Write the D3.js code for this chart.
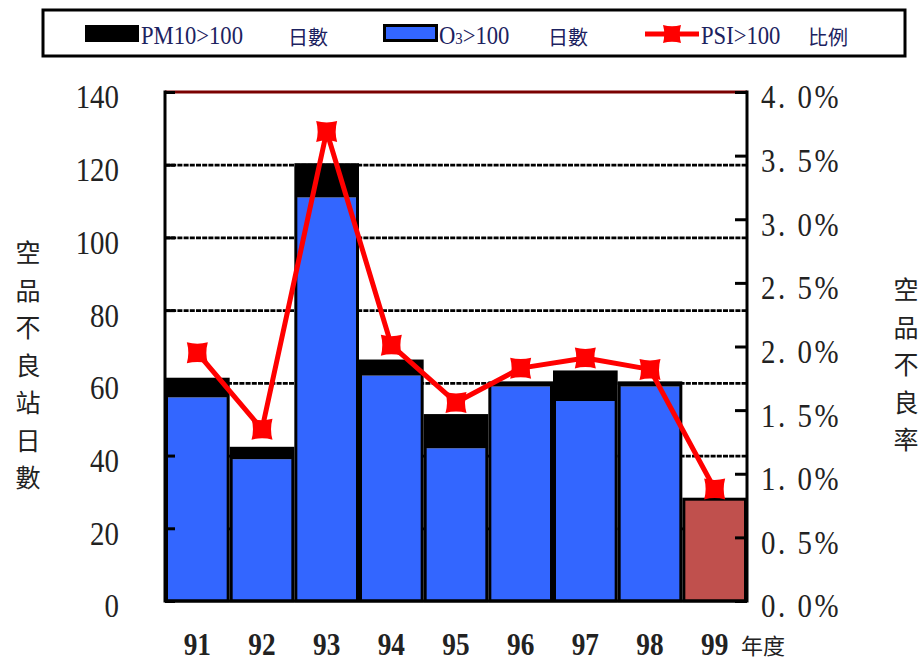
<!DOCTYPE html>
<html>
<head>
<meta charset="utf-8">
<script src="https://cdn.jsdelivr.net/npm/d3@7"></script>
<style>
  body { margin: 0; background: #fff; }
  svg { display: block; }
</style>
</head>
<body>
<svg width="922" height="661"></svg>
<script>
/* CHART DATA */
var years = ["91", "92", "93", "94", "95", "96", "97", "98", "99"];
var o3Days = [56, 39, 111, 62, 42, 59, 55, 59, 28];
var pm10Days = [5, 3, 9, 4, 9, 1, 8, 1, 0];
var psiRate = [1.95, 1.35, 3.69, 2.01, 1.56, 1.83, 1.91, 1.82, 0.88];
var leftTicks = [0, 20, 40, 60, 80, 100, 120, 140];
var rightTicks = [0, 0.5, 1.0, 1.5, 2.0, 2.5, 3.0, 3.5, 4.0];
var gridTicks = [20, 40, 60, 80, 100, 120];

var svg = d3.select("svg");
svg.append("rect").attr("width", 922).attr("height", 661).attr("fill", "#fff");

/* PLOT AREA EDGES (window.top IS READ-ONLY, SO USE OWN NAMES) */
var plotLeft = 165, plotRight = 747, plotTop = 92, plotBottom = 601;
var serif = "'Liberation Serif', 'DejaVu Serif', serif";
var cjk = "'Noto Sans CJK TC', 'Noto Sans CJK SC', sans-serif";

/* SCALES */
var x = d3.scaleBand().domain(years).range([plotLeft, plotRight]).padding(0);
var yL = d3.scaleLinear().domain([0, 140]).range([plotBottom, plotTop]);
var yR = d3.scaleLinear().domain([0, 4]).range([plotBottom, plotTop]);

/* DASHED GRID LINES BEHIND THE BARS */
svg.append("g")
  .attr("transform", "translate(" + plotLeft + ",0)")
  .call(d3.axisLeft(yL).tickValues(gridTicks).tickSize(-(plotRight - plotLeft)).tickFormat(""))
  .call(function(g) {
    g.select(".domain").remove();
    g.selectAll("line").attr("stroke", "#000").attr("stroke-width", 2.8).attr("stroke-dasharray", "5,1.2");
  });

/* STACKED BARS */
var bars = svg.append("g").selectAll("g").data(years).enter().append("g");
bars.append("rect")
  .attr("x", function(d) { return x(d) + 1.5; })
  .attr("width", x.bandwidth() - 3)
  .attr("y", function(d, i) { return yL(o3Days[i]); })
  .attr("height", function(d, i) { return yL(0) - yL(o3Days[i]); })
  .attr("fill", function(d) { return d === "99" ? "#C0504D" : "#3366FF"; });
bars.append("rect")
  .attr("x", function(d) { return x(d) + 1.5; })
  .attr("width", x.bandwidth() - 3)
  .attr("y", function(d, i) { return yL(o3Days[i] + pm10Days[i]); })
  .attr("height", function(d, i) { return yL(o3Days[i]) - yL(o3Days[i] + pm10Days[i]); })
  .attr("fill", "#000");
bars.append("rect")
  .attr("x", function(d) { return x(d) + 1.5; })
  .attr("width", x.bandwidth() - 3)
  .attr("y", function(d, i) { return yL(o3Days[i] + pm10Days[i]); })
  .attr("height", function(d, i) { return yL(0) - yL(o3Days[i] + pm10Days[i]); })
  .attr("fill", "none").attr("stroke", "#000").attr("stroke-width", 3);

/* FRAME: TOP IS DARK RED, OTHERS BLACK */
svg.append("line").attr("x1", plotLeft).attr("x2", plotRight).attr("y1", plotTop).attr("y2", plotTop)
  .attr("stroke", "#7A0000").attr("stroke-width", 3);
svg.append("line").attr("x1", plotLeft).attr("x2", plotLeft).attr("y1", plotTop - 1.5).attr("y2", plotBottom + 1.5)
  .attr("stroke", "#000").attr("stroke-width", 3);
svg.append("line").attr("x1", plotRight).attr("x2", plotRight).attr("y1", plotTop - 1.5).attr("y2", plotBottom + 1.5)
  .attr("stroke", "#000").attr("stroke-width", 3);
svg.append("line").attr("x1", plotLeft).attr("x2", plotRight).attr("y1", plotBottom).attr("y2", plotBottom)
  .attr("stroke", "#000").attr("stroke-width", 3);

/* LEFT AXIS */
var sx = 0.85;
svg.append("g")
  .attr("transform", "translate(" + plotLeft + ",0)")
  .call(d3.axisLeft(yL).tickValues(leftTicks).tickSizeInner(-10).tickSizeOuter(0).tickPadding(46 / sx))
  .call(function(g) {
    g.select(".domain").remove();
    g.selectAll("line").attr("stroke", "#000").attr("stroke-width", 3);
    g.selectAll("text").attr("font-family", serif).attr("font-size", 34).attr("fill", "#222")
      .attr("dy", "0.47em")
      .attr("transform", "scale(" + sx + ",1)");
  });

/* RIGHT AXIS */
svg.append("g")
  .attr("transform", "translate(" + plotRight + ",0)")
  .call(d3.axisRight(yR).tickValues(rightTicks).tickSizeInner(-12).tickSizeOuter(0).tickPadding(14 / sx)
    .tickFormat(function(d) { return d.toFixed(1).replace(".", ". ") + "%"; }))
  .call(function(g) {
    g.select(".domain").remove();
    g.selectAll("line").attr("stroke", "#000").attr("stroke-width", 3);
    g.selectAll("text").attr("font-family", serif).attr("font-size", 34).attr("fill", "#222")
      .attr("dy", "0.47em")
      .attr("letter-spacing", 3).attr("transform", "scale(" + sx + ",1)");
  });

/* X AXIS LABELS */
svg.append("g")
  .attr("transform", "translate(0," + plotBottom + ")")
  .call(d3.axisBottom(x).tickSize(0).tickPadding(0))
  .call(function(g) {
    g.select(".domain").remove();
    g.selectAll("text").attr("font-family", serif).attr("font-size", 31).attr("font-weight", "bold")
      .attr("fill", "#222").attr("dy", 0).attr("y", 54)
      .attr("transform", "scale(0.88,1)")
      .attr("x", 0);
  });
svg.append("text").attr("x", 741).attr("y", 654).attr("font-family", cjk).attr("font-size", 22)
  .attr("fill", "#222").text("年度");

/* VERTICAL AXIS TITLES */
var leftTitle = "空品不良站日數".split("");
svg.append("g").selectAll("text").data(leftTitle).enter().append("text")
  .attr("x", 28).attr("y", function(d, i) { return 262 + i * 37.5; })
  .attr("text-anchor", "middle").attr("font-family", cjk).attr("font-size", 25).attr("fill", "#222")
  .text(function(d) { return d; });
var rightTitle = "空品不良率".split("");
svg.append("g").selectAll("text").data(rightTitle).enter().append("text")
  .attr("x", 906).attr("y", function(d, i) { return 299 + i * 37.5; })
  .attr("text-anchor", "middle").attr("font-family", cjk).attr("font-size", 25).attr("fill", "#222")
  .text(function(d) { return d; });

/* PSI LINE */
function markerPath(s) {
  var h = s / 2, c = h * 0.72;
  return "M" + (-h) + "," + (-h) + " Q0," + (-c) + " " + h + "," + (-h) +
         " Q" + c + ",0 " + h + "," + h +
         " Q0," + c + " " + (-h) + "," + h +
         " Q" + (-c) + ",0 " + (-h) + "," + (-h) + "Z";
}
var line = d3.line()
  .x(function(d, i) { return x(years[i]) + x.bandwidth() / 2; })
  .y(function(d) { return yR(d); });
svg.append("path").datum(psiRate).attr("d", line)
  .attr("fill", "none").attr("stroke", "#FF0000").attr("stroke-width", 5).attr("stroke-linejoin", "round");
svg.append("g").selectAll("path").data(psiRate).enter().append("path")
  .attr("transform", function(d, i) { return "translate(" + (x(years[i]) + x.bandwidth() / 2) + "," + yR(d) + ")"; })
  .attr("d", markerPath(21))
  .attr("fill", "#FF0000");

/* LEGEND */
var legend = svg.append("g");
legend.append("rect").attr("x", 43).attr("y", 10).attr("width", 862).attr("height", 46)
  .attr("fill", "#fff").attr("stroke", "#000").attr("stroke-width", 3);
var legendColor = "#1c2260";
legend.append("rect").attr("x", 85).attr("y", 25).attr("width", 54).attr("height", 17).attr("fill", "#000");
legend.append("text").attr("x", 141).attr("y", 44).attr("font-family", serif).attr("font-size", 26)
  .attr("fill", legendColor).attr("transform", "translate(141,0) scale(0.87,1) translate(-141,0)")
  .text("PM10>100");
legend.append("text").attr("x", 288).attr("y", 45).attr("font-family", cjk).attr("font-size", 20)
  .attr("fill", legendColor).text("日數");
legend.append("rect").attr("x", 384.5).attr("y", 25.5).attr("width", 52).attr("height", 15)
  .attr("fill", "#3366FF").attr("stroke", "#000").attr("stroke-width", 3);
var o3Label = legend.append("text").attr("x", 439).attr("y", 44).attr("font-family", serif).attr("font-size", 26)
  .attr("fill", legendColor).attr("transform", "translate(439,0) scale(0.87,1) translate(-439,0)");
o3Label.append("tspan").text("O");
o3Label.append("tspan").attr("font-size", 17).text("3");
o3Label.append("tspan").text(">100");
legend.append("text").attr("x", 548).attr("y", 45).attr("font-family", cjk).attr("font-size", 20)
  .attr("fill", legendColor).text("日數");
legend.append("line").attr("x1", 645).attr("x2", 699).attr("y1", 34).attr("y2", 34)
  .attr("stroke", "#FF0000").attr("stroke-width", 5);
legend.append("path").attr("transform", "translate(672,34)").attr("d", markerPath(18)).attr("fill", "#FF0000");
legend.append("text").attr("x", 701).attr("y", 44).attr("font-family", serif).attr("font-size", 26)
  .attr("fill", legendColor).attr("transform", "translate(701,0) scale(0.87,1) translate(-701,0)")
  .text("PSI>100");
legend.append("text").attr("x", 808).attr("y", 45).attr("font-family", cjk).attr("font-size", 20)
  .attr("fill", legendColor).text("比例");
</script>
</body>
</html>
